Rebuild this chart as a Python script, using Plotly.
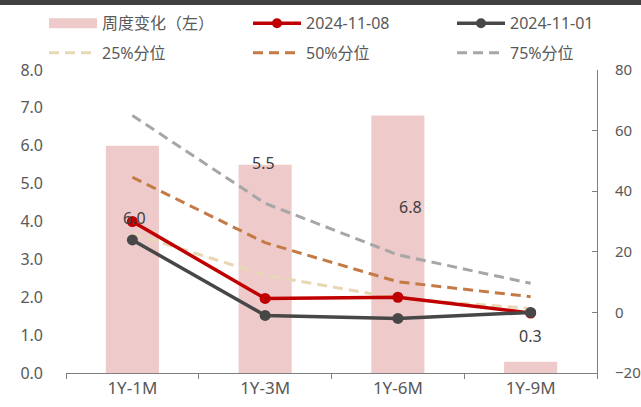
import plotly.graph_objects as go

categories = ["1Y-1M", "1Y-3M", "1Y-6M", "1Y-9M"]
weekly_change = [6.0, 5.5, 6.8, 0.3]
s_20241108 = [30.0, 4.6, 5.0, -0.2]
s_20241101 = [23.9, -1.0, -2.0, 0.0]
p25 = [26.0, 12.3, 4.6, 1.3]
p50 = [44.6, 23.0, 10.1, 5.2]
p75 = [65.0, 36.0, 19.0, 9.6]
bar_labels = ["6.0", "5.5", "6.8", "0.3"]
series_names = ["周度变化（左）", "2024-11-08", "2024-11-01", "25%分位", "50%分位", "75%分位"]

FONT = "Noto Sans, Noto Sans CJK SC, sans-serif"
TXT = "#595959"
BAR_C = "#EFCACA"
RED = "#C00000"
GRAY = "#474747"
C25, C50, C75 = "#E8D7B5", "#C47A45", "#A6A6A6"
DASH = "10px,6px"

W_FIG, H_FIG = 641, 407
L, R, T, B = 66, 44, 70, 34
PW, PH = W_FIG - L - R, H_FIG - T - B


def px(x):
    return (x - L) / PW


def py(y):
    return (T + PH - y) / PH


fig = go.Figure()
fig.add_trace(go.Bar(x=categories, y=weekly_change, name=series_names[0],
                     marker=dict(color=BAR_C, line=dict(width=0)),
                     width=0.4, yaxis="y", showlegend=False))
for vals, name, col in [(p25, series_names[3], C25), (p50, series_names[4], C50),
                        (p75, series_names[5], C75)]:
    fig.add_trace(go.Scatter(x=categories, y=vals, name=name, mode="lines",
                             line=dict(color=col, width=3, dash=DASH),
                             yaxis="y2", showlegend=False))
for vals, name, col in [(s_20241108, series_names[1], RED), (s_20241101, series_names[2], GRAY)]:
    fig.add_trace(go.Scatter(x=categories, y=vals, name=name, mode="lines+markers",
                             line=dict(color=col, width=3.5),
                             marker=dict(size=11, color=col),
                             yaxis="y2", showlegend=False))

# bar value labels
shifts = [(2, -72), (-2, 2), (13, -92), (0, 26)]
for c, v, t, (dx, dy) in zip(categories, weekly_change, bar_labels, shifts):
    fig.add_annotation(x=c, y=v, xref="x", yref="y", text=t, showarrow=False,
                       xshift=dx, yshift=dy, font=dict(size=16, color="#404040", family=FONT))

# top dark rule
fig.add_shape(type="rect", xref="paper", yref="paper", x0=px(-5), x1=px(W_FIG + 5),
              y0=py(5), y1=py(-2), fillcolor="#404040", line=dict(width=0), layer="above")

# legend (drawn to match the reference's wide swatches)
cols = [49, 253, 457]
rows = [23.3, 52.7]
styles = [("rect", BAR_C, None), ("marker", RED, None), ("marker", GRAY, None),
          ("dash", C25, DASH), ("dash", C50, DASH), ("dash", C75, DASH)]
for i, (name, (kind, col, dash)) in enumerate(zip(series_names, styles)):
    x0 = cols[i % 3]
    yc = rows[i // 3]
    x1 = x0 + 48
    if kind == "rect":
        fig.add_shape(type="rect", xref="paper", yref="paper", x0=px(x0), x1=px(x1),
                      y0=py(yc + 5), y1=py(yc - 5), fillcolor=col, line=dict(width=0))
    else:
        fig.add_shape(type="line", xref="paper", yref="paper", x0=px(x0), x1=px(x1),
                      y0=py(yc), y1=py(yc), line=dict(color=col, width=3.5 if kind == "marker" else 3,
                                                       dash=dash or "solid"))
        if kind == "marker":
            xm = (x0 + x1) / 2
            fig.add_shape(type="circle", xref="paper", yref="paper", x0=px(xm - 5), x1=px(xm + 5),
                          y0=py(yc + 5), y1=py(yc - 5), fillcolor=col, line=dict(width=0))
    fig.add_annotation(xref="paper", yref="paper", x=px(x1 + 3), y=py(yc), text=name,
                       showarrow=False, xanchor="left", yanchor="middle",
                       font=dict(size=16, color=TXT, family=FONT))

fig.update_layout(
    width=W_FIG, height=H_FIG,
    margin=dict(l=L, r=R, t=T, b=B, autoexpand=False),
    plot_bgcolor="white", paper_bgcolor="white",
    font=dict(family=FONT, size=16, color=TXT),
    showlegend=False,
    xaxis=dict(type="category", range=[-0.5, 3.5], showline=True, linecolor="#7F7F7F",
               linewidth=1, ticks="outside", ticklen=5, tickcolor="#7F7F7F",
               tickson="boundaries", showgrid=False, tickfont=dict(size=17, color=TXT)),
    yaxis=dict(range=[0, 8], dtick=1, tickformat=".1f", showgrid=False, showline=False,
               zeroline=False, ticks="", ticklabelstandoff=22,
               tickfont=dict(size=16, color=TXT)),
    yaxis2=dict(range=[-20, 80], dtick=20, overlaying="y", side="right", showgrid=False,
                showline=True, linecolor="#7F7F7F", linewidth=1, zeroline=False,
                ticks="inside", ticklen=5, tickcolor="#7F7F7F", ticklabelstandoff=14,
                tickfont=dict(size=15, color=TXT)),
)

fig.write_html("out.html", post_script="document.body.style.margin='0';",
               config={"displayModeBar": False})
